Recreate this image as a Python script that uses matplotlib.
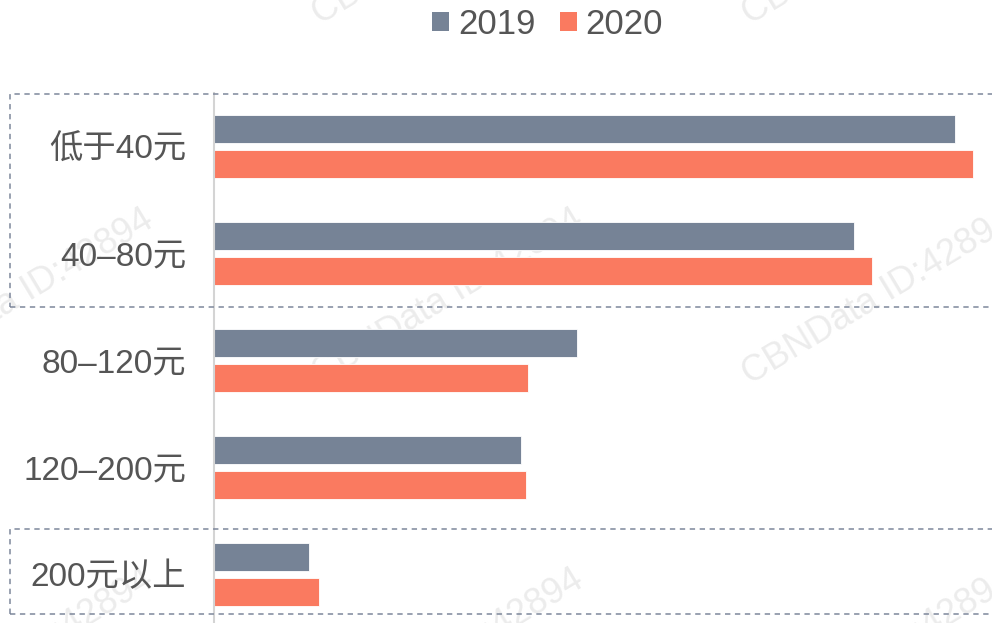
import matplotlib as mpl
import numpy as np
from matplotlib import pyplot as plt
from matplotlib.patches import Patch, Rectangle

categories = ["低于40元", "40–80元", "80–120元", "120–200元", "200元以上"]
series_names = ["2019", "2020"]
share_2019 = [34.5, 29.8, 16.9, 14.3, 4.4]
share_2020 = [35.3, 30.6, 14.6, 14.5, 4.9]

colors = ["#768396", "#fa7a60"]
text_color = "#555555"

plt.rcParams["font.family"] = ["Liberation Sans", "Noto Sans CJK SC"]

fig = plt.figure(figsize=(9.92, 6.23), dpi=100)
fig.patch.set_facecolor("white")

# axes spans from the y-axis line to the right edge, bottom band runs off the canvas
ax = fig.add_axes([214 / 992, -5 / 623, 1 - 214 / 992, 535 / 623])

y = np.arange(len(categories))
h = 0.262
off = 0.164
ax.barh(y - off, share_2019, height=h, color=colors[0], edgecolor="#ffffff", linewidth=0.6)
ax.barh(y + off, share_2020, height=h, color=colors[1], edgecolor="#ffffff", linewidth=0.6)

ax.set_xlim(0, 36.2)
ax.set_ylim(len(categories) - 0.5, -0.5)
ax.set_yticks(y)
ax.set_yticklabels(categories, fontsize=24, color=text_color)
ax.tick_params(axis="y", length=0, pad=20)
ax.set_xticks([])
for side in ["top", "right", "bottom"]:
    ax.spines[side].set_visible(False)
ax.spines["left"].set_color("#d4d4d4")
ax.spines["left"].set_linewidth(1.5)
ax.set_facecolor("none")

# dashed highlight boxes
dash_kw = dict(fill=False, edgecolor="#7d879b", linewidth=1.1, linestyle=(0, (3.5, 3)),
               transform=fig.transFigure, clip_on=False, zorder=5)
fig.patches.append(Rectangle((10 / 992, 1 - 307 / 623), 1.02, 213 / 623, **dash_kw))
fig.patches.append(Rectangle((10 / 992, 1 - 614 / 623), 1.02, 85 / 623, **dash_kw))

# watermark, behind the bars
for wx in [-110, 320, 750]:
    for wy in [25, 385, 745]:
        fig.text(wx / 992, 1 - wy / 623, "CBNData ID:42894", fontsize=26, color="#ececec",
                 rotation=31, rotation_mode="anchor", ha="left", va="baseline", zorder=-1)

handles = [Patch(facecolor=c, edgecolor="none") for c in colors]
leg = fig.legend(handles, series_names, loc="center", bbox_to_anchor=(0.552, 0.961), ncol=2,
                 frameon=False, fontsize=25, handlelength=0.5, handleheight=0.5,
                 handletextpad=0.25, columnspacing=0.7, borderpad=0)
for t in leg.get_texts():
    t.set_color(text_color)

fig.savefig("out.png", dpi=100)
